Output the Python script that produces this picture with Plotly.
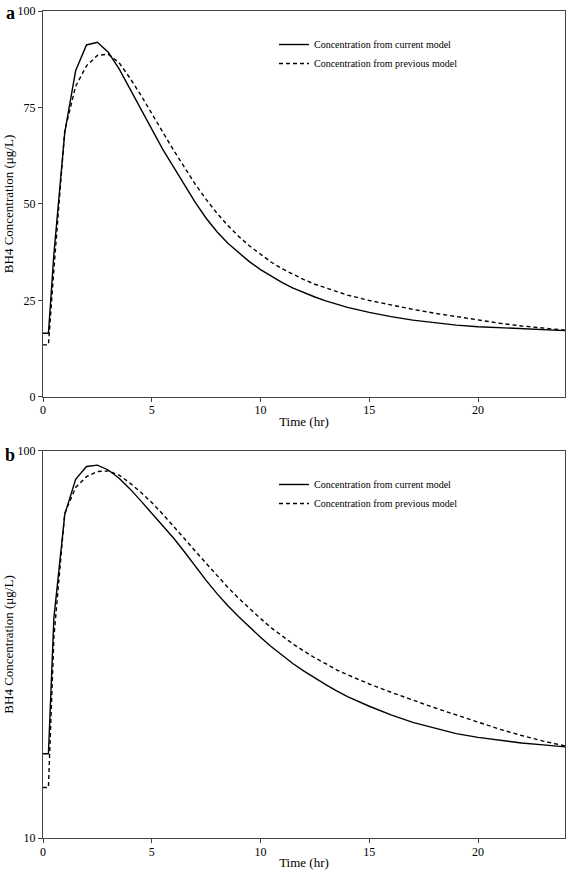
import plotly.graph_objects as go

# Time grid (hr)
time_hr = [0, 0.25, 0.5, 1, 1.5, 2, 2.5, 3, 3.5, 4, 4.5, 5, 5.5, 6, 6.5, 7, 7.5, 8, 8.5,
           9, 9.5, 10, 10.5, 11, 11.5, 12, 12.5, 13, 13.5, 14, 15, 16, 17, 18, 19, 20,
           21, 22, 23, 24]

# Concentration from current model (ug/L)
conc_current = [16.5, 16.5, 37.0, 68.5, 84.5, 91.2, 91.9, 89.3, 85.0, 79.8, 74.3, 69.0,
                64.2, 59.6, 54.9, 50.4, 46.3, 42.8, 39.8, 37.3, 35.0, 33.0, 31.2, 29.6,
                28.2, 27.0, 25.9, 24.9, 24.0, 23.2, 21.9, 20.8, 19.9, 19.2, 18.6, 18.2,
                17.9, 17.6, 17.4, 17.2]

# Concentration from previous model (ug/L)
conc_previous = [13.5, 13.5, 33.0, 69.0, 80.5, 85.8, 88.5, 88.8, 86.6, 82.6, 78.2, 73.6,
                 68.7, 64.0, 59.4, 55.1, 51.2, 47.6, 44.4, 41.6, 39.1, 36.9, 34.9, 33.2,
                 31.7, 30.4, 29.2, 28.2, 27.2, 26.4, 25.0, 23.8, 22.7, 21.7, 20.8, 19.9,
                 19.1, 18.4, 17.8, 17.3]

x_ticks = [0, 5, 10, 15, 20]
y_ticks_a = [0, 25, 50, 75, 100]
y_ticks_b = [10, 100]

FONT = "Liberation Serif, Times New Roman, serif"
AX = "#444444"

fig = go.Figure()

for xa, ya, leg in [("x", "y", "legend"), ("x2", "y2", "legend2")]:
    fig.add_trace(go.Scatter(
        x=time_hr, y=conc_current, mode="lines", name="Concentration from current model",
        line=dict(color="black", width=1.4), xaxis=xa, yaxis=ya, legend=leg))
    fig.add_trace(go.Scatter(
        x=time_hr, y=conc_previous, mode="lines", name="Concentration from previous model",
        line=dict(color="black", width=1.4, dash="4px,3px"), xaxis=xa, yaxis=ya, legend=leg))

axis_common = dict(showgrid=False, zeroline=False, showline=True, linecolor=AX, linewidth=1.2,
                   mirror=True, ticks="outside", ticklen=4, tickcolor=AX, tickwidth=1,
                   automargin=False,
                   tickfont=dict(family=FONT, size=12, color="black"))

xtitle = dict(text="Time (hr)", font=dict(size=13), standoff=0)
ytitle = dict(text="BH4 Concentration (μg/L)", font=dict(size=13), standoff=0)

fig.update_layout(
    width=568, height=874,
    margin=dict(l=43, r=3, t=11, b=36, autoexpand=False),
    paper_bgcolor="white", plot_bgcolor="white",
    font=dict(family=FONT, color="black"),
    xaxis=dict(domain=[0, 1], range=[0, 24], tickvals=x_ticks, anchor="y",
               ticklabelstandoff=-2, title=xtitle, **axis_common),
    yaxis=dict(domain=[0.5333, 1], range=[0, 100], tickvals=y_ticks_a, anchor="x",
               title=ytitle, **axis_common),
    xaxis2=dict(domain=[0, 1], range=[0, 24], tickvals=x_ticks, anchor="y2",
                ticklabelstandoff=-2, title=xtitle, **axis_common),
    yaxis2=dict(domain=[0, 0.468], type="log", range=[1, 2], tickvals=y_ticks_b, anchor="x2",
                title=ytitle, **axis_common),
    legend=dict(x=0.4425, y=0.977, xanchor="left", yanchor="top",
                font=dict(family=FONT, size=10), bgcolor="rgba(0,0,0,0)", itemwidth=30),
    legend2=dict(x=0.4425, y=0.445, xanchor="left", yanchor="top",
                 font=dict(family=FONT, size=10), bgcolor="rgba(0,0,0,0)", itemwidth=30),
)

# Panel labels placed in paper coordinates derived from the plot area size
plot_w = 568 - 43 - 3
plot_h = 874 - 11 - 36
fig.add_annotation(text="<b>a</b>", x=(10 - 43) / plot_w, y=(838 - 13) / plot_h,
                   xref="paper", yref="paper", showarrow=False, xanchor="center",
                   yanchor="middle", font=dict(family=FONT, size=18))
fig.add_annotation(text="<b>b</b>", x=(10 - 43) / plot_w, y=(838 - 455) / plot_h,
                   xref="paper", yref="paper", showarrow=False, xanchor="center",
                   yanchor="middle", font=dict(family=FONT, size=18))

fig.write_html(
    "out.html",
    config={"displayModeBar": False},
    post_script="document.body.style.margin='0';document.body.style.overflow='hidden';",
)
